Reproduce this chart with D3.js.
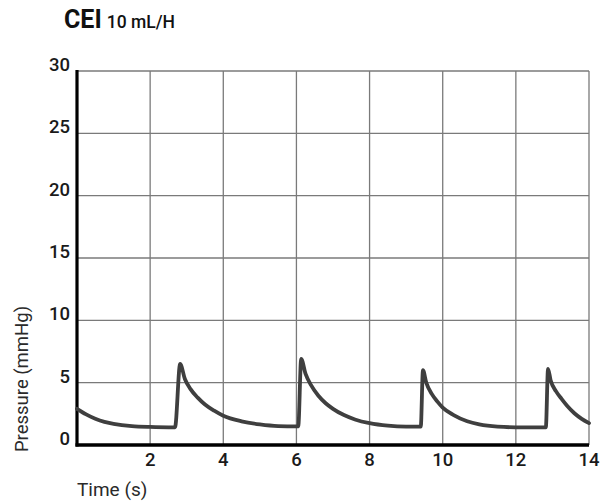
<!DOCTYPE html>
<html>
<head>
<meta charset="utf-8">
<script src="https://cdn.jsdelivr.net/npm/d3@7"></script>
<style>
  body { margin: 0; background: #fff; }
  svg { display: block; font-family: Roboto, "Open Sans", sans-serif; }
</style>
</head>
<body>
<svg id="chart" width="604" height="501"></svg>
<script>
// pressure trace (time in s, pressure in mmHg)
const times = [0, 0.25, 0.5, 0.75, 1.0, 1.5, 2.0, 2.5, 2.68,
  2.82, 2.95, 3.1, 3.3, 3.5, 3.75, 4.0, 4.5, 5.0, 5.5, 6.0, 6.05,
  6.13, 6.25, 6.4, 6.6, 6.8, 7.0, 7.3, 7.6, 8.0, 8.5, 9.0, 9.4,
  9.46, 9.55, 9.7, 9.85, 10.0, 10.3, 10.67, 11.0, 11.5, 12.0, 12.5, 12.82,
  12.88, 12.95, 13.1, 13.25, 13.4, 13.6, 13.8, 14.0]
const pressure = [2.9, 2.45, 2.1, 1.85, 1.7, 1.52, 1.45, 1.42, 1.42,
  6.5, 5.3, 4.5, 3.8, 3.25, 2.75, 2.35, 1.9, 1.65, 1.52, 1.5, 1.5,
  6.9, 5.7, 4.8, 3.95, 3.35, 2.9, 2.4, 2.05, 1.75, 1.55, 1.48, 1.48,
  6.0, 5.0, 4.1, 3.5, 3.0, 2.4, 1.9, 1.65, 1.47, 1.42, 1.42, 1.42,
  6.1, 5.2, 4.3, 3.7, 3.15, 2.55, 2.1, 1.76]

const xTicks = [2, 4, 6, 8, 10, 12, 14]
const yTicks = [0, 5, 10, 15, 20, 25, 30]

const svg = d3.select("#chart")

const x = d3.scaleLinear().domain([0, 14]).range([77, 589])
const y = d3.scaleLinear().domain([0, 30]).range([445, 71])

// title
const title = svg.append("text")
  .attr("x", 64).attr("y", 27.5)
  .attr("fill", "#111")
title.append("tspan").attr("font-size", 25).attr("font-weight", "bold").text("CEI")
title.append("tspan").attr("font-size", 17.5).attr("font-weight", 500).attr("dx", 5).text("10 mL/H")

// grid
svg.append("g")
  .attr("stroke", "#7a7a7a")
  .attr("stroke-width", 1.3)
  .selectAll("line")
  .data(xTicks)
  .join("line")
  .attr("x1", d => x(d)).attr("x2", d => x(d))
  .attr("y1", y(30)).attr("y2", y(0))

svg.append("g")
  .attr("stroke", "#7a7a7a")
  .attr("stroke-width", 1.3)
  .selectAll("line")
  .data(yTicks.filter(d => d > 0))
  .join("line")
  .attr("x1", x(0)).attr("x2", x(14))
  .attr("y1", d => y(d)).attr("y2", d => y(d))

// axes lines
svg.append("line")
  .attr("x1", x(0)).attr("x2", x(0))
  .attr("y1", y(30) - 1).attr("y2", y(0) + 1.5)
  .attr("stroke", "#000").attr("stroke-width", 3.2)
svg.append("line")
  .attr("x1", x(0) - 1.5).attr("x2", x(14))
  .attr("y1", y(0)).attr("y2", y(0))
  .attr("stroke", "#000").attr("stroke-width", 3.4)

// tick labels
svg.append("g")
  .attr("font-size", 18.5)
  .attr("font-weight", 500)
  .attr("fill", "#1a1a1a")
  .attr("text-anchor", "end")
  .selectAll("text")
  .data(yTicks)
  .join("text")
  .attr("x", x(0) - 7)
  .attr("y", d => y(d))
  .text(d => d)

svg.append("g")
  .attr("font-size", 18.5)
  .attr("font-weight", 500)
  .attr("fill", "#1a1a1a")
  .attr("text-anchor", "middle")
  .selectAll("text")
  .data(xTicks)
  .join("text")
  .attr("x", d => x(d))
  .attr("y", y(0) + 21)
  .text(d => d)

// axis titles
svg.append("text")
  .attr("x", 77).attr("y", 496)
  .attr("font-size", 19).attr("fill", "#2a2a2a")
  .text("Time (s)")

svg.append("text")
  .attr("transform", "translate(28,379) rotate(-90)")
  .attr("text-anchor", "middle")
  .attr("font-size", 18.5).attr("fill", "#2a2a2a")
  .text("Pressure (mmHg)")

// trace
const line = d3.line()
  .x(d => x(d[0]))
  .y(d => y(d[1]))
  .curve(d3.curveMonotoneX)

svg.append("path")
  .datum(times.map((t, i) => [t, pressure[i]]))
  .attr("d", line)
  .attr("fill", "none")
  .attr("stroke", "#3f3f3f")
  .attr("stroke-width", 3.8)
  .attr("stroke-linejoin", "round")
  .attr("stroke-linecap", "round")
</script>
</body>
</html>
